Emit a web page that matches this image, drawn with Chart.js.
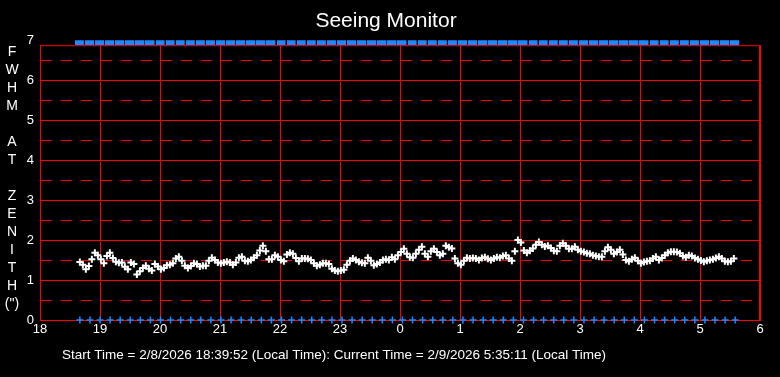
<!DOCTYPE html>
<html>
<head>
<meta charset="utf-8">
<script src="https://cdn.jsdelivr.net/npm/chart.js@4/dist/chart.umd.min.js"></script>
<style>
  html, body { margin: 0; padding: 0; background: #000; }
  canvas { display: block; }
</style>
</head>
<body>
<canvas id="seeing" width="780" height="377"></canvas>
<script>
// times in hours, after midnight counted as 24+
const startHour = 18 + 39 / 60 + 52 / 3600
const currentHour = 24 + 5 + 35 / 60 + 11 / 3600
const stepMinutes = 3

// FWHM at zenith (arcsec), one reading every 3 minutes
const fwhmValues = [
  1.45, 1.38, 1.27, 1.35, 1.52, 1.68, 1.62, 1.52, 1.42, 1.60,
  1.68, 1.55, 1.46, 1.43, 1.44, 1.33, 1.27, 1.44, 1.40, 1.14,
  1.22, 1.30, 1.36, 1.28, 1.24, 1.40, 1.34, 1.27, 1.30, 1.37,
  1.38, 1.42, 1.54, 1.58, 1.48, 1.36, 1.30, 1.35, 1.42, 1.40,
  1.34, 1.36, 1.36, 1.48, 1.56, 1.50, 1.44, 1.42, 1.44, 1.46,
  1.44, 1.38, 1.44, 1.56, 1.58, 1.48, 1.47, 1.50, 1.56, 1.62,
  1.74, 1.86, 1.72, 1.52, 1.52, 1.62, 1.58, 1.50, 1.47, 1.64,
  1.68, 1.66, 1.55, 1.47, 1.54, 1.54, 1.53, 1.50, 1.42, 1.36,
  1.38, 1.42, 1.42, 1.40, 1.28, 1.24, 1.22, 1.24, 1.26, 1.38,
  1.48, 1.54, 1.50, 1.46, 1.43, 1.42, 1.56, 1.48, 1.37, 1.40,
  1.44, 1.50, 1.52, 1.50, 1.57, 1.52, 1.62, 1.70, 1.78, 1.66,
  1.57, 1.56, 1.66, 1.76, 1.83, 1.66, 1.58, 1.72, 1.78, 1.70,
  1.62, 1.66, 1.86, 1.82, 1.79, 1.54, 1.42, 1.38, 1.48, 1.56,
  1.54, 1.55, 1.54, 1.50, 1.55, 1.57, 1.53, 1.50, 1.54, 1.57,
  1.56, 1.60, 1.62, 1.54, 1.48, 1.72, 2.00, 1.94, 1.74, 1.68,
  1.73, 1.79, 1.88, 1.95, 1.88, 1.84, 1.86, 1.80, 1.73, 1.72,
  1.86, 1.92, 1.86, 1.78, 1.78, 1.83, 1.76, 1.72, 1.70, 1.67,
  1.66, 1.62, 1.60, 1.58, 1.58, 1.72, 1.82, 1.76, 1.66, 1.70,
  1.76, 1.64, 1.50, 1.47, 1.52, 1.56, 1.48, 1.42, 1.45, 1.47,
  1.48, 1.54, 1.58, 1.50, 1.55, 1.62, 1.68, 1.71, 1.71, 1.70,
  1.67, 1.60, 1.57, 1.62, 1.60, 1.55, 1.52, 1.49, 1.46, 1.48,
  1.50, 1.52, 1.55, 1.58, 1.54, 1.47, 1.46, 1.47, 1.54
]

// blue status markers along top (7) and bottom (0)
const markerCount = 66
const topMarkerValue = 7
const bottomMarkerValue = 0

const xTickLabels = ['18', '19', '20', '21', '22', '23', '0', '1', '2', '3', '4', '5', '6']
const yTickValues = [0, 0.5, 1, 1.5, 2, 2.5, 3, 3.5, 4, 4.5, 5, 5.5, 6, 6.5, 7]
const yAxisLetters = ['F', 'W', 'H', 'M', '', 'A', 'T', '', 'Z', 'E', 'N', 'I', 'T', 'H', '(")']
const titleText = 'Seeing Monitor'
const footerText = 'Start Time = 2/8/2026 18:39:52 (Local Time): Current Time = 2/9/2026 5:35:11 (Local Time)'

const FONT = "'Liberation Sans', Arial, sans-serif"
const RED = '#ff0000'
const BLUE = '#1e88ff'

// build the points
const fwhmPoints = fwhmValues.map((v, i) => ({ x: startHour + i * stepMinutes / 60, y: v }))
const markerStep = (currentHour - startHour) / (markerCount - 1)
const topMarkers = []
const bottomMarkers = []
for (let k = 0; k < markerCount; k++) {
  topMarkers.push({ x: startHour + k * markerStep, y: topMarkerValue })
  bottomMarkers.push({ x: startHour + k * markerStep, y: bottomMarkerValue })
}

// little half-filled block for the top row
const topMark = document.createElement('canvas')
topMark.width = 10
topMark.height = 10
const tctx = topMark.getContext('2d')
tctx.fillStyle = BLUE
tctx.fillRect(0, 5, 9, 5)

const extras = {
  id: 'extras',
  beforeDatasetsDraw(chart) {
    const { ctx, chartArea } = chart
    ctx.save()
    ctx.strokeStyle = RED
    ctx.lineWidth = 1
    ctx.strokeRect(chartArea.left + 0.5, chartArea.top + 0.5,
      chartArea.right - chartArea.left - 1, chartArea.bottom - chartArea.top)
    ctx.restore()
  },
  afterDraw(chart) {
    const ctx = chart.ctx
    ctx.save()
    ctx.fillStyle = '#ffffff'
    ctx.font = '14px ' + FONT
    ctx.textAlign = 'center'
    ctx.textBaseline = 'middle'
    yAxisLetters.forEach((ch, i) => {
      if (ch) ctx.fillText(ch, 12, 52 + i * 18)
    })
    ctx.font = '13.5px ' + FONT
    ctx.textAlign = 'left'
    ctx.fillText(footerText, 62, 355)
    ctx.restore()
  }
}

const cfg = {
  type: 'scatter',
  data: {
    datasets: [
      {
        label: 'top',
        data: topMarkers,
        pointStyle: topMark,
        pointRadius: 5,
        clip: false
      },
      {
        label: 'bottom',
        data: bottomMarkers,
        pointStyle: 'cross',
        pointRadius: 3.5,
        borderColor: BLUE,
        pointBorderWidth: 1.5,
        clip: false
      },
      {
        label: 'FWHM',
        data: fwhmPoints,
        pointStyle: 'cross',
        pointRadius: 3.5,
        borderColor: '#ffffff',
        pointBorderWidth: 2
      }
    ]
  },
  options: {
    responsive: false,
    animation: false,
    layout: { padding: { left: 12, right: 20, top: 0, bottom: 0 } },
    plugins: {
      legend: { display: false },
      tooltip: { enabled: false },
      title: {
        display: true,
        text: titleText,
        color: '#ffffff',
        font: { family: FONT, size: 21, weight: 'normal' },
        padding: { top: 9, bottom: 11 }
      }
    },
    scales: {
      x: {
        type: 'linear',
        min: 18,
        max: 30,
        afterFit: s => { s.height = 57 },
        afterBuildTicks: s => { s.ticks = xTickLabels.map((t, i) => ({ value: 18 + i })) },
        ticks: {
          color: '#ffffff',
          font: { family: FONT, size: 13 },
          padding: 2,
          maxRotation: 0,
          callback: (v, i) => xTickLabels[i]
        },
        grid: { color: RED, lineWidth: 1, drawTicks: false },
        border: { color: RED }
      },
      y: {
        min: 0,
        max: 6.875,
        afterFit: s => { s.width = 28 },
        afterBuildTicks: s => { s.ticks = yTickValues.map(v => ({ value: v })) },
        ticks: {
          color: '#ffffff',
          font: { family: FONT, size: 13 },
          padding: 6,
          callback: v => Number.isInteger(v) ? String(v) : ''
        },
        grid: {
          drawTicks: false,
          lineWidth: 1,
          color: c => (c.tick && c.tick.value > 6.9) ? 'rgba(0,0,0,0)' : RED
        },
        border: {
          color: RED,
          dash: c => (c.tick && !Number.isInteger(c.tick.value)) ? [11, 9] : []
        }
      }
    }
  },
  plugins: [extras]
}

const seeingChart = new Chart(document.getElementById('seeing'), cfg)
</script>
</body>
</html>
